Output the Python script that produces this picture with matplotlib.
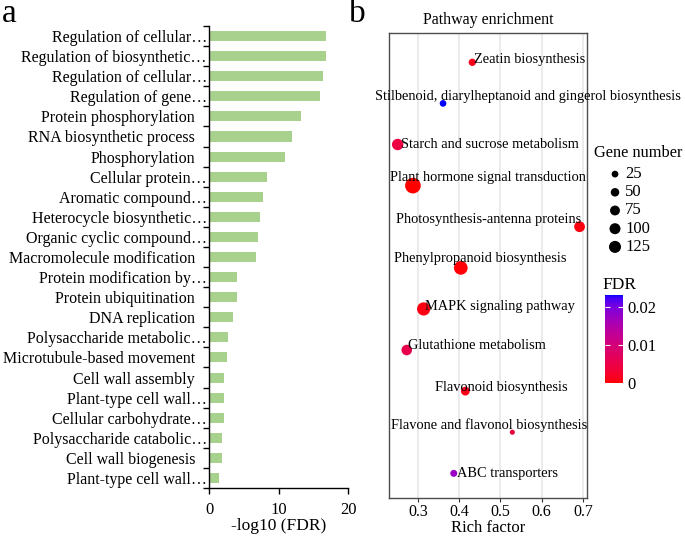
import numpy as np
import matplotlib
matplotlib.use("Agg")
import matplotlib.pyplot as plt
from matplotlib.colors import ListedColormap, to_rgb

plt.rcParams['font.family'] = ['Liberation Serif', 'DejaVu Serif']

# ---- panel a: GO terms ----
go_terms = [
    "Regulation of cellular…", "Regulation of biosynthetic…", "Regulation of cellular…",
    "Regulation of gene…", "Protein phosphorylation", "RNA biosynthetic process",
    "Phosphorylation", "Cellular protein…", "Aromatic compound…",
    "Heterocycle biosynthetic…", "Organic cyclic compound…", "Macromolecule modification",
    "Protein modification by…", "Protein ubiquitination", "DNA replication",
    "Polysaccharide metabolic…", "Microtubule-based movement", "Cell wall assembly",
    "Plant-type cell wall…", "Cellular carbohydrate…", "Polysaccharide catabolic…",
    "Cell wall biogenesis", "Plant-type cell wall…",
]
go_log_fdr = [16.8, 16.8, 16.4, 15.9, 13.3, 12.0, 10.9, 8.4, 7.7, 7.4, 7.1, 6.8,
              4.1, 4.1, 3.5, 2.7, 2.6, 2.1, 2.1, 2.1, 1.9, 1.9, 1.4]

# ---- panel b: KEGG pathways ----
pathways = [
    "Zeatin biosynthesis", "Stilbenoid, diarylheptanoid and gingerol biosynthesis",
    "Starch and sucrose metabolism", "Plant hormone signal transduction",
    "Photosynthesis-antenna proteins", "Phenylpropanoid biosynthesis",
    "MAPK signaling pathway", "Glutathione metabolism", "Flavonoid biosynthesis",
    "Flavone and flavonol biosynthesis", "ABC transporters",
]
rich_factor = [0.432, 0.361, 0.251, 0.288, 0.692, 0.404, 0.314, 0.273, 0.415, 0.529, 0.387]
gene_number = [32, 24, 110, 240, 95, 175, 160, 90, 55, 9, 28]
fdr = [0.0012, 0.0231, 0.0045, 0.0, 0.0006, 0.0002, 0.0008, 0.0055, 0.0010, 0.0038, 0.0175]
size_breaks = [25, 50, 75, 100, 125]

# label placement (centre x in rich factor units, vertical offset in points)
label_x = [0.5715, 0.568, 0.474, 0.470, 0.471, 0.452, 0.498, 0.442, 0.502, 0.473, 0.518]
label_dy = [2.2, 4.8, 0, 6.0, 5.5, 6.5, 1.7, 3.4, 2.9, 5.3, 0]


def dot_size(n):
    d_px = 2.5 + 0.85 * np.sqrt(np.asarray(n, dtype=float))
    return (d_px * 0.72) ** 2


def lab_cmap(low, high, n=256):
    # interpolate in CIE Lab like ggplot's scale_colour_gradient
    M = np.array([[0.4124, 0.3576, 0.1805], [0.2126, 0.7152, 0.0722], [0.0193, 0.1192, 0.9505]])
    white = np.array([0.95047, 1.0, 1.08883])

    def to_lab(c):
        c = np.array(to_rgb(c))
        lin = np.where(c <= 0.04045, c / 12.92, ((c + 0.055) / 1.055) ** 2.4)
        xyz = M @ lin / white
        f = np.where(xyz > 0.008856, np.cbrt(xyz), 7.787 * xyz + 16 / 116)
        return np.array([116 * f[1] - 16, 500 * (f[0] - f[1]), 200 * (f[1] - f[2])])

    def to_rgb_(lab):
        fy = (lab[0] + 16) / 116
        f = np.array([fy + lab[1] / 500, fy, fy - lab[2] / 200])
        xyz = np.where(f ** 3 > 0.008856, f ** 3, (f - 16 / 116) / 7.787) * white
        lin = np.linalg.solve(M, xyz)
        lin = np.clip(lin, 0, 1)
        c = np.where(lin <= 0.0031308, 12.92 * lin, 1.055 * lin ** (1 / 2.4) - 0.055)
        return np.clip(c, 0, 1)

    a, b = to_lab(low), to_lab(high)
    return ListedColormap([to_rgb_(a + (b - a) * t) for t in np.linspace(0, 1, n)])


fig = plt.figure(figsize=(6.85, 5.36), dpi=100)
W, H = 685, 536

# ---------------- panel a ----------------
ax1 = fig.add_axes([209 / W, 48 / H, 139 / W, 462 / H])
y = np.arange(len(go_terms))
ax1.barh(y, go_log_fdr, height=0.5, color='#A9D18E')
ax1.set_xlim(0, 20)
ax1.set_ylim(len(go_terms) - 0.5, -0.5)
ax1.spines[['top', 'right']].set_visible(False)
ax1.spines[['left', 'bottom']].set_linewidth(1.0)
ax1.set_xticks([0, 10, 20])
ax1.tick_params(axis='x', length=4, width=1, labelsize=12, pad=6)
ax1.set_yticks(y)
ax1.set_yticklabels(go_terms, fontsize=11.5)
ax1.set_yticks(np.arange(-0.5, len(go_terms), 1), minor=True)
ax1.tick_params(axis='y', which='major', length=0)
ax1.tick_params(axis='y', which='minor', length=4, width=1)
for tick, lab in zip(ax1.yaxis.get_major_ticks(), go_terms):
    tick.set_pad(1.5 if lab.endswith('…') else 10)
ax1.set_xlabel('-log10 (FDR)', fontsize=12.5, labelpad=0)

# ---------------- panel b ----------------
cmap = lab_cmap('red', 'blue')
ax2 = fig.add_axes([389 / W, 38 / H, 198 / W, 465 / H])
yp = np.arange(len(pathways))
sc = ax2.scatter(rich_factor, yp, s=dot_size(gene_number), c=fdr, cmap=cmap,
                 vmin=0, vmax=max(fdr), edgecolors='none', zorder=3)
for name, lx, ly, dy in zip(pathways, label_x, yp, label_dy):
    ax2.annotate(name, (lx, ly), xytext=(0, dy), textcoords='offset points',
                 ha='center', va='center', fontsize=10.4, annotation_clip=False, zorder=4)
ax2.set_xlim(0.23, 0.71)
ax2.set_ylim(len(pathways) - 0.4, -0.713)
ax2.set_xticks([0.3, 0.4, 0.5, 0.6, 0.7])
ax2.set_yticks([])
ax2.grid(axis='x', color='#EBEBEB', linewidth=1.4)
ax2.set_axisbelow(True)
for s in ax2.spines.values():
    s.set_color('#4D4D4D')
    s.set_linewidth(1.0)
ax2.tick_params(axis='x', length=3, color='#333333', labelsize=11.5, pad=1)
ax2.set_xlabel('Rich factor', fontsize=12, labelpad=0)
fig.text(488 / W, 1 - 20 / H, 'Pathway enrichment', ha='center', va='center', fontsize=11.5)

# size legend
fig.text(594 / W, 1 - 152.7 / H, 'Gene number', ha='left', va='center', fontsize=11.8)
lax = fig.add_axes([605 / W, 1 - 256 / H, 80 / W, 91 / H])
lax.scatter(np.zeros(len(size_breaks)), np.arange(len(size_breaks)),
            s=dot_size(size_breaks), color='black', edgecolors='none')
for i, b in enumerate(size_breaks):
    lax.text(1, i, str(b), ha='left', va='center', fontsize=12)
lax.set_xlim(-1, 7)
lax.set_ylim(len(size_breaks) - 0.5, -0.5)
lax.axis('off')

# colour bar
fig.text(602 / W, 1 - 285 / H, 'FDR', ha='left', va='center', fontsize=12.5)
cax = fig.add_axes([605 / W, 1 - 383 / H, 18 / W, 88 / H])
cb = fig.colorbar(sc, cax=cax, ticks=[0, 0.01, 0.02])
cb.outline.set_visible(False)
cax.set_yticklabels(['0', '0.01', '0.02'])
cax.tick_params(axis='y', direction='in', length=3.5, width=0.8, color='white',
                left=True, labelsize=12, pad=3)

# panel letters
fig.text(2 / W, 1 - 14 / H, 'a', ha='left', va='center', fontsize=24)
fig.text(349 / W, 1 - 14 / H, 'b', ha='left', va='center', fontsize=24)

fig.savefig('out.png', dpi=100)
